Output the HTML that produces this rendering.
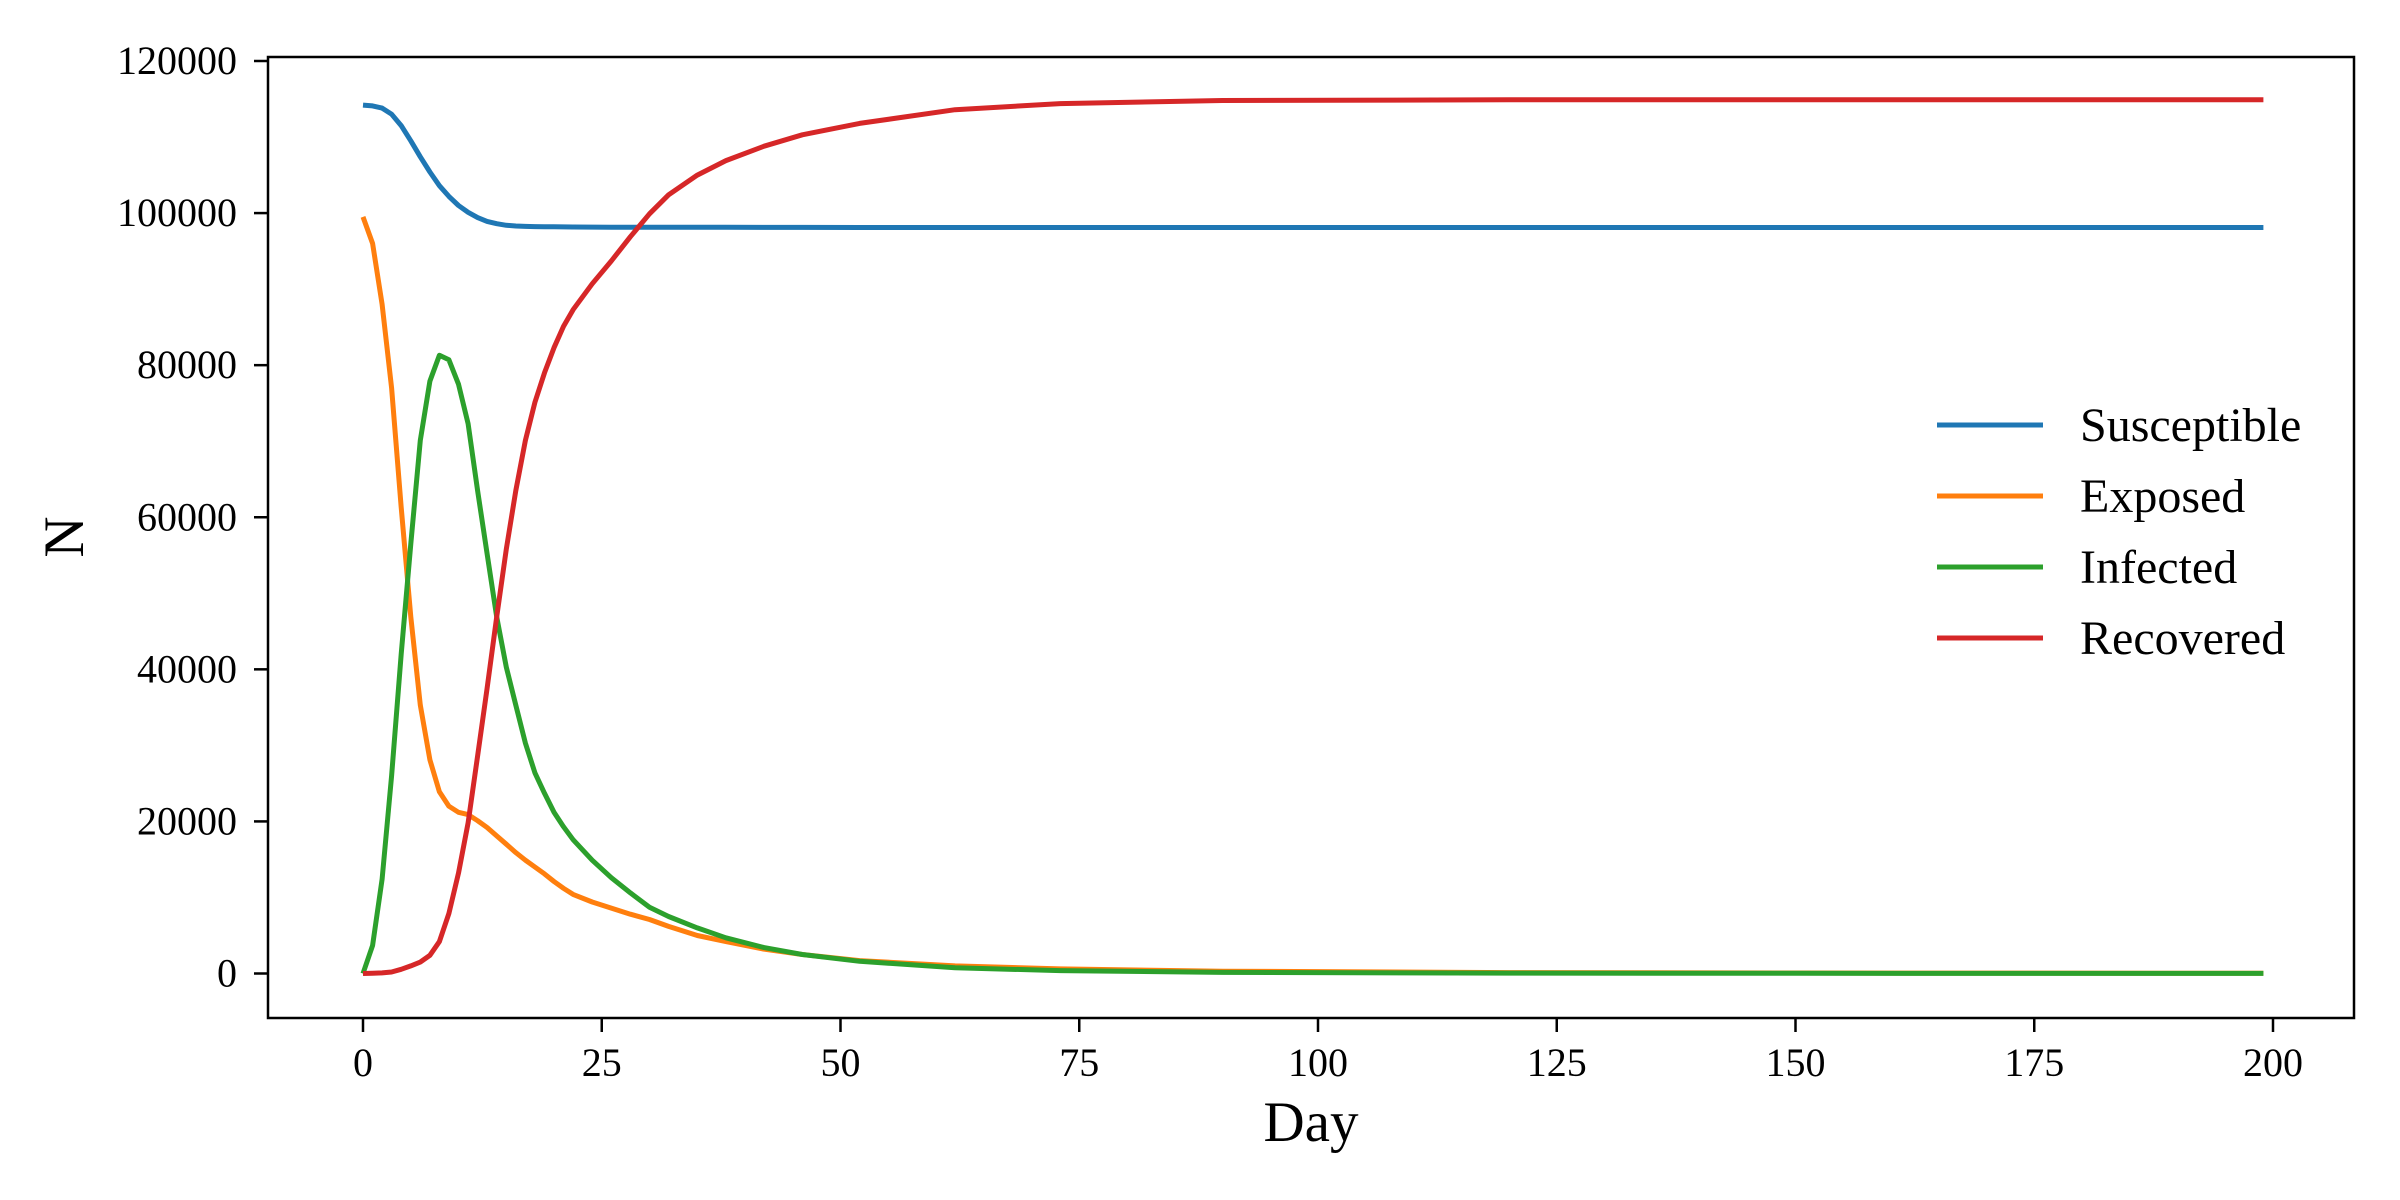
<!DOCTYPE html>
<html><head><meta charset="utf-8"><style>
html,body{margin:0;padding:0;background:#fff;}
svg{display:block;}
text{font-family:"Liberation Serif","DejaVu Serif",serif;fill:#000;}
</style></head><body>
<svg id="chart" width="2400" height="1200" viewBox="0 0 2400 1200" xmlns="http://www.w3.org/2000/svg">
<rect x="0" y="0" width="2400" height="1200" fill="#fff"/>
<g id="plot"></g>
<g id="axes"></g>
<g id="legend"></g>
</svg>
<script>
const days = [0,1,2,3,4,5,6,7,8,9,10,11,12,13,14,15,16,17,18,19,20,21,22,24,26,28,30,32,35,38,42,46,52,62,73,90,120,150,199];
const susceptible = [114200,114100,113800,113000,111500,109500,107400,105400,103600,102200,101000,100100,99400,98900,98600,98400,98300,98250,98220,98200,98200,98180,98170,98160,98150,98150,98150,98140,98130,98130,98120,98120,98110,98100,98100,98100,98100,98100,98100];
const exposed = [99500,96000,88000,77000,61300,46900,35300,28100,23900,22000,21200,20900,20100,19200,18100,17000,15900,14900,14000,13100,12100,11200,10400,9400,8600,7800,7100,6200,5000,4200,3200,2500,1700,1000,600,300,120,60,30];
const infected = [0,3700,12400,26000,42000,56500,70100,77900,81300,80700,77500,72300,63500,55200,46900,40300,35300,30300,26400,23700,21200,19300,17600,14900,12600,10600,8700,7500,6000,4700,3400,2500,1600,750,380,150,50,30,10];
const recovered = [0,20,80,200,550,1000,1500,2400,4200,7900,13200,19800,28600,37500,46900,55800,63500,70100,75100,79000,82300,85100,87300,90700,93700,96900,99900,102400,105000,106900,108800,110300,111800,113600,114400,114800,114900,114900,114900];
const seriesNames = ["Susceptible","Exposed","Infected","Recovered"];
const seriesColors = ["#1f77b4","#ff7f0e","#2ca02c","#d62728"];
const xTicks = [0,25,50,75,100,125,150,175,200];
const yTicks = [0,20000,40000,60000,80000,100000,120000];

const NS="http://www.w3.org/2000/svg";
const L=268,R=2354,T=57,B=1018;
function xs(d){return 363+(d-0)*(2273-363)/200;}
function ys(v){return 973.5-v*(973.5-61)/120000;}
function mk(tag,attrs,parent){const e=document.createElementNS(NS,tag);for(const k in attrs)e.setAttribute(k,attrs[k]);parent.appendChild(e);return e;}
const plot=document.getElementById('plot'),axes=document.getElementById('axes'),legend=document.getElementById('legend');
const all=[susceptible,exposed,infected,recovered];
all.forEach((s,i)=>{
  const p=mk('polyline',{points:days.map((d,j)=>xs(d).toFixed(1)+','+ys(s[j]).toFixed(1)).join(' '),fill:'none',stroke:seriesColors[i],'stroke-width':5,'stroke-linejoin':'round'},plot);
  
  
});
const frame=mk('rect',{x:L,y:T,width:R-L,height:B-T,fill:'none',stroke:'#000','stroke-width':2.5},axes);


xTicks.forEach(t=>{
  const x=xs(t);
  mk('line',{x1:x,x2:x,y1:B,y2:B+14,stroke:'#000','stroke-width':2.5},axes);
  const tx=mk('text',{x:x,y:1076,'font-size':40,'text-anchor':'middle'},axes);
  tx.textContent=t;
  
  
});
yTicks.forEach(t=>{
  const y=ys(t);
  mk('line',{x1:L-14,x2:L,y1:y,y2:y,stroke:'#000','stroke-width':2.5},axes);
  const tx=mk('text',{x:237,y:y+13,'font-size':40,'text-anchor':'end'},axes);
  tx.textContent=t;
  
  
});
const xl=mk('text',{x:1311,y:1141,'font-size':57,'text-anchor':'middle'},axes);
xl.textContent='Day';


const yl=mk('text',{x:0,y:0,'font-size':57,'text-anchor':'middle',transform:'translate(83,537) rotate(-90)'},axes);
yl.textContent='N';


seriesNames.forEach((n,i)=>{
  const y=425+i*71;
  const g=mk('g',{},legend);
  
  
  mk('line',{x1:1937,x2:2043,y1:y,y2:y,stroke:seriesColors[i],'stroke-width':5},g);
  const t=mk('text',{x:2080,y:y+16,'font-size':48},g);
  t.textContent=n;
});
</script>
</body></html>
